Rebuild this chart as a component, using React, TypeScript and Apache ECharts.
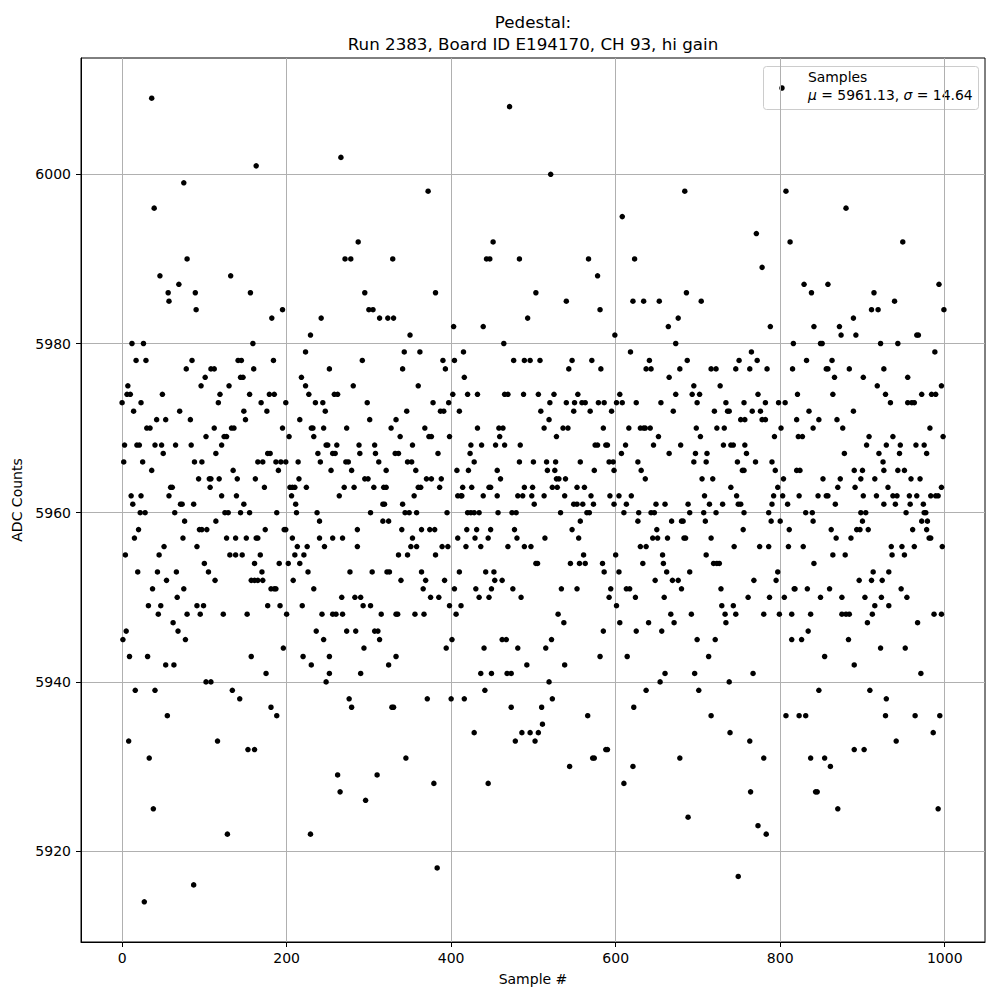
import React, { useEffect, useRef } from "react";
import * as echarts from "echarts";

// [sample #, ADC counts], grouped by sample range
const samples000to079: [number, number][] = [
  [36,6009],[75,5999],[39,5996],[79,5990],[46,5988],[56,5986],[57,5985],[69,5987],[12,5980],[26,5980],
  [17,5978],[29,5978],[78,5977],[7,5975],[6,5974],[10,5974],[0,5973],[23,5973],[49,5974],[14,5972],
  [70,5972],[42,5971],[53,5971],[30,5970],[34,5970],[3,5968],[18,5968],[21,5968],[40,5968],[48,5968],
  [65,5968],[50,5967],[2,5966],[25,5966],[36,5965],[59,5963],[61,5963],[11,5962],[23,5962],[57,5962],
  [13,5961],[71,5961],[73,5961],[22,5960],[28,5960],[64,5960],[76,5959],[20,5958],[15,5957],[74,5957],
  [51,5956],[4,5955],[45,5955],[19,5953],[43,5953],[66,5953],[54,5952],[37,5951],[75,5951],[67,5950],
  [32,5949],[47,5949],[44,5948],[79,5948],[62,5947],[5,5946],[68,5946],[1,5945],[77,5945],[9,5943],
  [31,5943],[53,5942],[63,5942],[16,5939],[40,5939],[55,5936],[8,5933],[33,5931],[38,5925],[27,5914],
];
const samples080to163: [number, number][] = [
  [163,6001],[132,5988],[89,5986],[156,5986],[90,5984],[159,5980],[85,5978],[141,5978],[145,5978],[108,5977],
  [112,5977],[160,5977],[101,5976],[144,5976],[147,5976],[96,5975],[130,5975],[119,5974],[155,5974],[117,5973],
  [148,5972],[83,5971],[150,5971],[112,5970],[133,5970],[136,5970],[102,5969],[124,5969],[127,5969],[84,5968],
  [121,5968],[114,5967],[88,5966],[97,5966],[135,5965],[93,5964],[106,5964],[108,5964],[118,5964],[140,5964],
  [162,5964],[107,5963],[121,5962],[139,5962],[87,5961],[148,5961],[125,5960],[129,5960],[144,5960],[155,5960],
  [114,5959],[94,5958],[97,5958],[103,5958],[127,5957],[138,5957],[151,5957],[163,5957],[91,5956],[131,5955],
  [138,5955],[146,5955],[100,5954],[161,5954],[105,5953],[113,5952],[157,5952],[161,5952],[91,5949],[99,5949],
  [95,5948],[123,5948],[152,5948],[157,5943],[102,5940],[108,5940],[134,5939],[143,5938],[116,5933],[153,5932],
  [161,5932],[128,5922],[87,5916],
];
const samples164to248: [number, number][] = [
  [195,5984],[182,5983],[242,5983],[229,5981],[223,5979],[184,5978],[218,5976],[223,5975],[179,5974],[185,5974],
  [227,5974],[169,5973],[199,5973],[235,5973],[244,5973],[176,5972],[247,5972],[216,5971],[195,5970],[230,5970],
  [232,5970],[245,5970],[203,5969],[233,5969],[177,5967],[180,5967],[238,5967],[248,5968],[165,5966],[171,5966],
  [187,5966],[193,5966],[199,5966],[214,5966],[241,5966],[190,5965],[215,5964],[173,5963],[204,5963],[207,5963],
  [210,5963],[224,5963],[206,5962],[211,5961],[188,5960],[212,5960],[237,5960],[240,5959],[174,5958],[197,5958],
  [199,5958],[165,5957],[207,5957],[240,5957],[213,5956],[225,5956],[246,5956],[168,5955],[210,5955],[221,5955],
  [191,5954],[202,5954],[216,5954],[170,5953],[226,5953],[165,5952],[171,5952],[208,5952],[181,5951],[185,5951],
  [187,5951],[233,5951],[177,5949],[192,5949],[219,5949],[200,5948],[243,5948],[236,5946],[245,5945],[196,5944],
  [220,5943],[230,5942],[175,5941],[248,5940],[181,5937],[188,5936],[229,5922],
];
const samples249to333: [number, number][] = [
  [266,6002],[287,5992],[271,5990],[278,5990],[329,5990],[295,5986],[300,5984],[305,5984],[313,5983],[323,5983],
  [330,5983],[292,5978],[252,5977],[258,5974],[262,5974],[281,5975],[298,5973],[301,5971],[333,5971],[273,5970],
  [327,5970],[250,5968],[261,5968],[288,5968],[307,5968],[256,5967],[259,5967],[289,5967],[308,5967],[332,5967],
  [254,5965],[272,5966],[275,5966],[279,5965],[312,5966],[321,5965],[295,5964],[299,5964],[270,5963],[282,5963],
  [306,5963],[318,5963],[321,5963],[264,5962],[317,5961],[319,5961],[302,5960],[317,5959],[324,5959],[286,5958],
  [256,5957],[268,5957],[286,5956],[277,5953],[304,5953],[322,5953],[325,5953],[267,5950],[283,5950],[290,5950],
  [293,5949],[302,5949],[256,5948],[260,5948],[268,5948],[315,5948],[333,5948],[273,5946],[284,5946],[307,5946],
  [311,5946],[313,5945],[252,5943],[294,5944],[333,5943],[324,5942],[252,5941],[290,5941],[276,5938],[279,5937],
  [328,5937],[330,5937],[262,5929],[310,5929],[265,5927],[296,5926],
];
const samples334to416: [number, number][] = [
  [372,5998],[381,5986],[403,5982],[350,5981],[343,5979],[362,5979],[415,5979],[341,5977],[390,5978],[404,5978],
  [393,5977],[416,5976],[360,5975],[402,5974],[378,5973],[397,5973],[387,5972],[391,5972],[346,5972],[410,5972],
  [368,5970],[338,5969],[373,5969],[376,5969],[398,5969],[336,5967],[353,5968],[384,5967],[347,5966],[352,5966],
  [357,5965],[407,5965],[360,5963],[363,5963],[370,5964],[376,5964],[388,5964],[386,5963],[414,5963],[341,5961],
  [355,5962],[408,5962],[412,5962],[413,5962],[344,5960],[349,5960],[358,5960],[395,5960],[340,5958],[364,5958],
  [374,5958],[380,5958],[353,5957],[408,5957],[351,5956],[358,5956],[389,5956],[396,5956],[336,5955],[347,5955],
  [381,5955],[364,5953],[410,5953],[339,5952],[369,5952],[392,5952],[366,5951],[404,5951],[375,5950],[385,5950],
  [398,5949],[412,5949],[335,5948],[356,5948],[367,5948],[406,5948],[401,5945],[394,5944],[371,5938],[400,5938],
  [416,5938],[345,5931],[379,5928],[383,5918],
];
const samples417to503: [number, number][] = [
  [471,6008],[451,5992],[443,5990],[447,5990],[483,5990],[503,5986],[493,5983],[439,5982],[464,5980],[476,5978],
  [489,5978],[496,5978],[420,5974],[432,5974],[465,5974],[469,5974],[488,5974],[432,5970],[458,5970],[463,5970],
  [459,5969],[424,5968],[437,5968],[454,5968],[465,5968],[484,5968],[423,5967],[428,5966],[483,5966],[500,5966],
  [421,5965],[456,5965],[460,5964],[425,5963],[446,5963],[448,5963],[489,5963],[499,5963],[439,5962],[456,5962],
  [481,5962],[487,5962],[498,5962],[501,5961],[420,5960],[424,5960],[428,5960],[434,5960],[457,5960],[474,5960],
  [479,5960],[419,5958],[431,5958],[448,5958],[477,5958],[418,5956],[429,5957],[436,5956],[445,5957],[480,5957],
  [469,5956],[489,5956],[497,5956],[503,5954],[442,5953],[452,5953],[453,5952],[462,5952],[430,5951],[449,5951],
  [475,5951],[434,5950],[446,5950],[485,5950],[462,5945],[467,5945],[440,5944],[481,5944],[492,5942],[436,5941],
  [449,5941],[468,5941],[473,5941],[441,5939],[473,5937],[428,5934],[486,5934],[496,5934],[478,5933],[502,5933],
  [445,5928],
];
const samples504to588: [number, number][] = [
  [521,6000],[567,5990],[578,5988],[540,5985],[581,5984],[508,5978],[547,5978],[571,5978],[543,5977],[582,5977],
  [506,5974],[525,5974],[554,5974],[509,5972],[520,5973],[540,5973],[550,5973],[559,5973],[563,5973],[579,5973],
  [586,5973],[549,5972],[569,5972],[519,5971],[513,5970],[536,5970],[542,5970],[585,5970],[528,5969],[575,5968],
  [578,5968],[588,5968],[516,5966],[527,5966],[557,5966],[517,5965],[526,5965],[574,5965],[528,5964],[531,5964],
  [539,5964],[523,5963],[529,5963],[553,5963],[562,5963],[513,5962],[538,5962],[570,5962],[549,5961],[553,5961],
  [560,5961],[573,5961],[533,5960],[565,5960],[568,5960],[557,5959],[547,5958],[555,5957],[514,5957],[561,5955],
  [505,5954],[545,5954],[556,5954],[563,5954],[584,5954],[586,5953],[534,5951],[553,5951],[530,5948],[537,5947],
  [522,5945],[515,5944],[585,5946],[581,5943],[538,5942],[519,5940],[523,5938],[510,5937],[511,5935],[506,5934],
  [566,5936],[572,5931],[574,5931],[588,5932],[544,5930],
];
const samples589to673: [number, number][] = [
  [608,5995],[623,5990],[621,5985],[634,5985],[653,5985],[664,5982],[599,5981],[673,5980],[618,5979],[641,5978],
  [637,5977],[643,5977],[665,5976],[605,5974],[601,5973],[608,5973],[625,5973],[655,5973],[595,5972],[670,5972],
  [616,5970],[630,5970],[634,5970],[636,5970],[642,5970],[652,5969],[590,5968],[612,5968],[646,5968],[607,5967],
  [665,5967],[592,5966],[597,5966],[627,5966],[598,5965],[631,5965],[636,5964],[593,5962],[604,5962],[619,5962],
  [598,5961],[613,5961],[649,5961],[660,5961],[610,5960],[628,5960],[643,5960],[647,5960],[627,5959],[668,5959],
  [650,5958],[645,5957],[651,5957],[663,5957],[630,5956],[637,5956],[600,5955],[657,5955],[633,5954],[658,5954],
  [604,5953],[662,5953],[648,5952],[669,5952],[594,5951],[613,5951],[617,5951],[592,5950],[624,5950],[659,5950],
  [601,5949],[667,5948],[605,5947],[640,5947],[671,5947],[625,5946],[656,5946],[614,5943],[660,5941],[654,5940],
  [637,5939],[622,5937],[590,5932],[621,5930],[610,5928],
];
const samples674to757: [number, number][] = [
  [684,5998],[686,5986],[704,5985],[676,5983],[678,5977],[687,5978],[716,5977],[722,5977],[746,5977],[750,5978],
  [727,5975],[695,5975],[693,5974],[702,5974],[699,5973],[734,5973],[756,5973],[673,5974],[720,5972],[723,5970],
  [732,5970],[736,5972],[738,5972],[752,5971],[757,5971],[698,5970],[679,5968],[731,5968],[740,5968],[743,5968],
  [757,5968],[703,5969],[697,5967],[711,5967],[695,5966],[710,5966],[748,5966],[754,5965],[756,5965],[705,5964],
  [718,5964],[740,5963],[708,5962],[747,5962],[688,5961],[714,5961],[730,5961],[749,5961],[752,5961],[690,5960],
  [707,5960],[722,5960],[756,5960],[680,5959],[682,5959],[709,5959],[755,5958],[683,5957],[685,5957],[716,5957],
  [744,5956],[710,5955],[719,5954],[723,5954],[726,5954],[690,5953],[676,5952],[680,5951],[728,5951],[729,5949],
  [743,5949],[692,5948],[733,5948],[746,5948],[734,5947],[699,5945],[721,5945],[713,5943],[696,5941],[738,5940],
  [701,5939],[716,5936],[739,5934],[678,5931],[688,5924],[749,5917],
];
const samples758to843: [number, number][] = [
  [807,5998],[771,5993],[812,5992],[778,5989],[829,5987],[838,5986],[788,5982],[841,5982],[816,5980],[765,5979],
  [763,5977],[772,5978],[784,5977],[815,5977],[832,5978],[773,5974],[821,5974],[782,5973],[798,5973],[806,5973],
  [766,5972],[776,5972],[835,5972],[778,5971],[782,5971],[801,5970],[820,5971],[840,5970],[793,5969],[822,5969],
  [827,5969],[770,5966],[759,5967],[790,5966],[794,5965],[820,5965],[824,5965],[804,5964],[797,5963],[792,5962],
  [803,5962],[823,5962],[790,5961],[809,5961],[786,5960],[831,5960],[839,5960],[789,5959],[800,5959],[840,5959],
  [811,5958],[775,5956],[786,5956],[810,5956],[828,5956],[841,5954],[797,5953],[795,5952],[768,5952],[817,5951],
  [818,5951],[833,5951],[761,5950],[787,5950],[805,5950],[780,5948],[799,5948],[814,5948],[837,5948],[834,5946],
  [814,5945],[826,5945],[767,5941],[807,5936],[823,5936],[831,5936],[763,5933],[780,5931],[837,5931],[764,5927],
  [843,5927],[773,5923],[783,5922],
];
const samples844to928: [number, number][] = [
  [880,5996],[858,5987],[914,5986],[911,5984],[919,5984],[889,5983],[872,5982],[874,5981],[892,5981],[849,5980],
  [851,5980],[922,5980],[863,5978],[856,5977],[858,5977],[884,5977],[926,5977],[866,5976],[901,5976],[918,5975],
  [864,5974],[928,5974],[889,5972],[847,5971],[869,5971],[876,5970],[908,5969],[905,5968],[878,5967],[920,5967],
  [925,5966],[890,5965],[900,5965],[926,5965],[852,5964],[873,5964],[898,5964],[915,5964],[870,5963],[891,5963],
  [846,5962],[856,5962],[858,5962],[901,5962],[917,5962],[867,5961],[926,5961],[898,5960],[904,5960],[900,5959],
  [862,5958],[893,5958],[897,5958],[907,5958],[868,5957],[886,5957],[864,5955],[879,5955],[913,5953],[896,5952],
  [911,5952],[924,5952],[860,5951],[849,5950],[875,5950],[903,5950],[923,5950],[915,5949],[875,5948],[880,5948],
  [884,5948],[912,5948],[906,5947],[883,5945],[854,5943],[922,5944],[890,5942],[847,5939],[909,5939],[928,5936],
  [890,5932],[902,5932],[854,5931],[861,5930],[845,5927],[870,5925],
];
const samples929to999: [number, number][] = [
  [949,5992],[993,5987],[939,5985],[999,5984],[966,5981],[968,5981],[943,5980],[988,5979],[955,5976],[996,5975],
  [972,5974],[984,5974],[989,5974],[934,5973],[955,5973],[960,5973],[963,5973],[982,5970],[937,5969],[998,5969],
  [946,5968],[965,5968],[975,5968],[945,5967],[978,5967],[929,5968],[943,5965],[951,5965],[959,5964],[970,5964],
  [931,5963],[996,5963],[937,5962],[942,5962],[957,5962],[966,5962],[983,5962],[989,5962],[992,5962],[940,5961],
  [958,5961],[974,5961],[953,5960],[975,5960],[977,5960],[972,5959],[979,5959],[961,5958],[978,5958],[981,5957],
  [983,5957],[935,5956],[948,5956],[963,5956],[997,5956],[936,5955],[951,5955],[932,5953],[947,5951],[954,5950],
  [932,5949],[967,5947],[987,5948],[996,5948],[952,5944],[971,5941],[929,5938],[964,5936],[994,5936],[941,5933],
  [986,5934],[992,5925],
];

const xTicks = [0, 200, 400, 600, 800, 1000];
const yTicks = [5920, 5940, 5960, 5980, 6000];
const titleLine1 = "Pedestal:";
const titleLine2 = "Run 2383, Board ID E194170, CH 93, hi gain";
const legendName = "Samples";
const meanValue = "5961.13";
const sigmaValue = "14.64";
const xLabel = "Sample #";
const yLabel = "ADC Counts";

const FONT = "DejaVu Sans";

export default function App() {
  const ref = useRef<HTMLDivElement>(null);
  useEffect(() => {
    if (!ref.current) return;
    const chart = echarts.init(ref.current, null, { renderer: "svg" });
    const data = [
      ...samples000to079, ...samples080to163, ...samples164to248, ...samples249to333,
      ...samples334to416, ...samples417to503, ...samples504to588, ...samples589to673,
      ...samples674to757, ...samples758to843, ...samples844to928, ...samples929to999,
    ];
    const axisCommon = {
      axisLine: { show: true, onZero: false, lineStyle: { color: "#000", width: 1 } },
      axisTick: { show: true, inside: false, length: 5, lineStyle: { color: "#000", width: 1 } },
      splitLine: { show: true, lineStyle: { color: "#b0b0b0", width: 1 } },
      nameLocation: "middle" as const,
      nameTextStyle: { fontFamily: FONT, fontSize: 14, color: "#000" },
    };
    chart.setOption({
      animation: false,
      backgroundColor: "#fff",
      textStyle: { fontFamily: FONT },
      grid: {
        left: 81, right: 15, top: 58, bottom: 58,
        show: true, borderColor: "#000", borderWidth: 1, backgroundColor: "transparent",
      },
      xAxis: {
        type: "value",
        min: -49.95,
        max: 1048.95,
        splitNumber: 5,
        name: xLabel,
        nameGap: 30,
        ...axisCommon,
        axisTick: { ...axisCommon.axisTick, customValues: xTicks },
        axisLabel: {
          customValues: xTicks,
          margin: 9,
          fontFamily: FONT, fontSize: 14, color: "#000",
          formatter: (v: number) => (xTicks.includes(v) ? String(v) : ""),
        },
      },
      yAxis: {
        type: "value",
        min: 5909.25,
        max: 6013.75,
        splitNumber: 5,
        name: yLabel,
        nameGap: 51,
        ...axisCommon,
        axisTick: { ...axisCommon.axisTick, customValues: yTicks },
        axisLabel: {
          customValues: yTicks,
          margin: 10,
          fontFamily: FONT, fontSize: 14, color: "#000",
          formatter: (v: number) => (yTicks.includes(v) ? String(v) : ""),
        },
      },
      series: [
        {
          type: "scatter",
          name: legendName,
          data,
          symbol: "circle",
          symbolSize: 5.5,
          itemStyle: { color: "#000", opacity: 1 },
          silent: true,
        },
      ],
      graphic: [
        {
          type: "text",
          x: 533, y: 22,
          style: { text: titleLine1, font: `16.7px '${FONT}'`, fill: "#000", align: "center", verticalAlign: "middle" },
        },
        {
          type: "text",
          x: 533, y: 44,
          style: { text: titleLine2, font: `16.7px '${FONT}'`, fill: "#000", align: "center", verticalAlign: "middle" },
        },
        {
          type: "rect",
          shape: { x: 763.5, y: 66.5, width: 215, height: 43, r: 3 },
          style: { fill: "rgba(255,255,255,0.8)", stroke: "#cccccc", lineWidth: 1 },
        },
        {
          type: "circle",
          shape: { cx: 782, cy: 88, r: 2.75 },
          style: { fill: "#000" },
        },
        {
          type: "text",
          x: 808, y: 77,
          style: { text: legendName, font: `13.9px '${FONT}'`, fill: "#000", align: "left", verticalAlign: "middle" },
        },
        {
          type: "text",
          x: 808, y: 95,
          style: {
            text: `{i|μ} = ${meanValue}, {i|σ} = ${sigmaValue}`,
            font: `13.9px '${FONT}'`,
            fill: "#000",
            align: "left",
            verticalAlign: "middle",
            rich: { i: { fontStyle: "italic", fontFamily: FONT, fontSize: 13.9, fill: "#000" } },
          },
        },
      ],
    });
    return () => chart.dispose();
  }, []);
  return <div ref={ref} style={{ position: "absolute", left: 0, top: 0, width: 1000, height: 1000 }} />;
}
